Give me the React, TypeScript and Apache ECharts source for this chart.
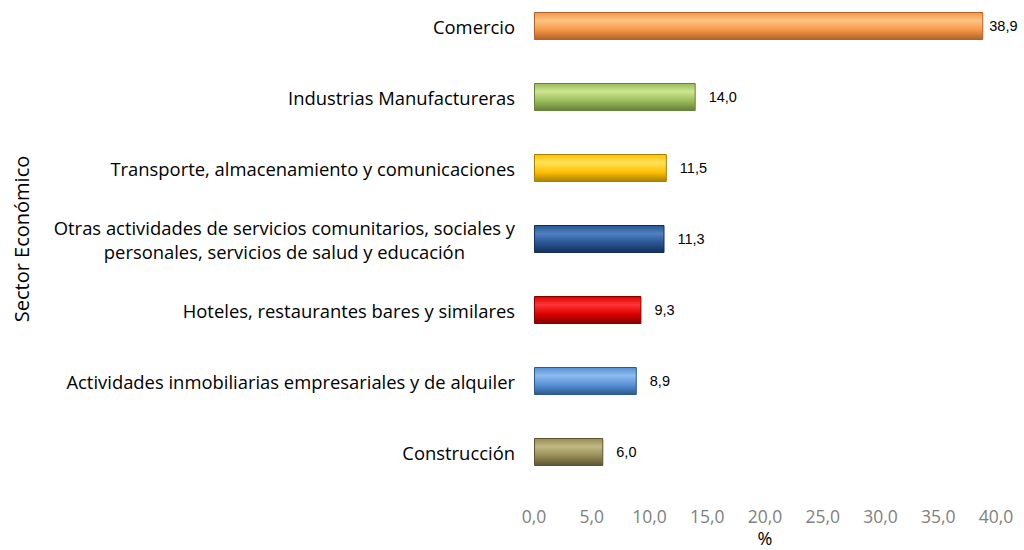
import React, { useEffect, useRef } from "react";
import * as echarts from "echarts";

const categories = [
  "Comercio",
  "Industrias Manufactureras",
  "Transporte, almacenamiento y comunicaciones",
  "Otras actividades de servicios comunitarios, sociales y\npersonales, servicios de salud y educación",
  "Hoteles, restaurantes bares y similares",
  "Actividades inmobiliarias empresariales y de alquiler",
  "Construcción",
];
const values = [38.9, 14.0, 11.5, 11.3, 9.3, 8.9, 6.0];
const xTicks = [0, 5, 10, 15, 20, 25, 30, 35, 40];

const palette = [
  { base: "#F79646", light: "#FCC482", dark: "#B0612A" },
  { base: "#9BBB59", light: "#CDE691", dark: "#65823A" },
  { base: "#FFC000", light: "#FFE25A", dark: "#A98000" },
  { base: "#285592", light: "#4F80C2", dark: "#14305A" },
  { base: "#DD0000", light: "#FF3535", dark: "#850000" },
  { base: "#5690D6", light: "#8EBBEC", dark: "#2D5A8E" },
  { base: "#968C56", light: "#C0B884", dark: "#5C5532" },
];

const LABEL_FONT = "Open Sans";
const LABEL_SIZE = 18.4;

function fmt(v: number) {
  return v.toFixed(1).replace(".", ",");
}

export default function App() {
  const ref = useRef<HTMLDivElement>(null);
  useEffect(() => {
    if (!ref.current) return;
    const chart = echarts.init(ref.current, undefined, { renderer: "svg" });

    const ctx = document.createElement("canvas").getContext("2d")!;
    ctx.font = `${LABEL_SIZE}px "${LABEL_FONT}"`;
    const multi = categories.find((c) => c.includes("\n")) || "";
    const mParts = multi.split("\n");
    const padRight = mParts.length > 1
      ? Math.max(0, (ctx.measureText(mParts[0]).width - ctx.measureText(mParts[1]).width) / 2)
      : 0;

    const data = values.map((v, i) => ({
      value: v,
      itemStyle: {
        color: new echarts.graphic.LinearGradient(0, 0, 0, 1, [
          { offset: 0, color: palette[i].base },
          { offset: 0.3, color: palette[i].light },
          { offset: 0.65, color: palette[i].base },
          { offset: 1, color: palette[i].dark },
        ]),
        borderColor: palette[i].dark,
        borderWidth: 1,
      },
      label: i === 0 ? { distance: 6 } : undefined,
    }));

    chart.setOption({
      animation: false,
      backgroundColor: "#ffffff",
      grid: {
        left: 534,
        right: 28,
        top: -9.5,
        bottom: 62.5,
        containLabel: false,
        outerBoundsMode: "none",
      },
      xAxis: {
        type: "value",
        min: xTicks[0],
        max: xTicks[xTicks.length - 1],
        interval: 5,
        name: "%",
        nameLocation: "middle",
        nameGap: 36,
        nameTextStyle: { fontFamily: LABEL_FONT, fontSize: 18, color: "#000" },
        axisLine: { show: false },
        axisTick: { show: false },
        splitLine: { show: false },
        axisLabel: {
          margin: 19,
          fontFamily: LABEL_FONT,
          fontSize: 17.5,
          color: "#7f7f7f",
          formatter: (v: number) => fmt(v),
        },
      },
      yAxis: {
        type: "category",
        inverse: true,
        data: categories,
        name: "Sector Económico",
        nameLocation: "middle",
        nameGap: 503,
        nameTextStyle: { fontFamily: LABEL_FONT, fontSize: 20, color: "#000" },
        axisLine: { show: false },
        axisTick: { show: false },
        axisLabel: {
          margin: 19,
          fontFamily: LABEL_FONT,
          fontSize: LABEL_SIZE,
          color: "#000",
          lineHeight: 24,
          formatter: (v: string) => {
            const parts = v.split("\n");
            if (parts.length < 2) return v;
            return `{a|${parts[0]}}\n{b|${parts[1]}}`;
          },
          rich: {
            a: { fontFamily: LABEL_FONT, fontSize: LABEL_SIZE, color: "#000", lineHeight: 24 },
            b: {
              fontFamily: LABEL_FONT,
              fontSize: LABEL_SIZE,
              color: "#000",
              lineHeight: 24,
              padding: [0, padRight, 0, 0],
            },
          },
        },
      },
      series: [
        {
          type: "bar",
          data,
          barWidth: 28,
          label: {
            show: true,
            position: "right",
            distance: 13,
            fontFamily: "Liberation Sans, Arial",
            fontSize: 14.5,
            color: "#000",
            formatter: (p: any) => fmt(p.value),
          },
        },
      ],
    });
    return () => chart.dispose();
  }, []);
  return <div ref={ref} style={{ width: 1024, height: 550, position: "absolute", left: 0, top: 0 }} />;
}
